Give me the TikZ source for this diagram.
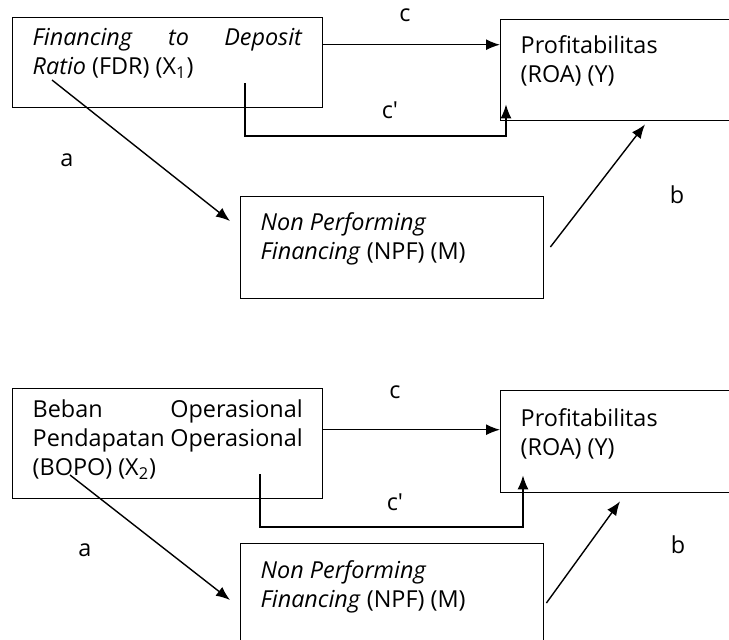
\documentclass[tikz,border=0pt]{standalone}
\usepackage{fontspec}
\setmainfont{Open Sans}
\usetikzlibrary{arrows.meta}

% box text: height, width, first baseline, text
\newcommand{\boxtext}[4]{\parbox[c][#1][t]{#2}{\rule{0pt}{#3}#4}}

\begin{document}
\begin{tikzpicture} [
        x=0.5pt, y=-0.5pt,
        font={\fontsize{11.7}{14.5}\selectfont},
        block/.style={rectangle, draw, anchor=north west, inner xsep=10pt, inner ysep=0pt, line width=0.7pt},
        lbl/.style={inner sep=0pt},
        line/.style={draw, line width=0.7pt, -{Latex[length=7pt, width=5.5pt]}}
    ]
        \useasboundingbox (0,0) rectangle (729,639);

        % Nodes (FDR model)
        \node[block] (fdr) at (12,17) {\boxtext{45pt}{135pt}{14pt}{\textit{Financing} \hfill \textit{to} \hfill \textit{Deposit}\\ \textit{Ratio} (FDR) (X\textsubscript{1})}};
        \node[block] (roa) at (500,19) {\boxtext{50.5pt}{110pt}{17pt}{Profitabilitas\\ (ROA) (Y)}};
        \node[block] (npf) at (240,196) {\boxtext{51pt}{131.5pt}{17pt}{\textit{Non Performing}\\ \textit{Financing} (NPF) (M)}};

        % Nodes (BOPO model)
        \node[block] (bopo) at (12,388) {\boxtext{55pt}{135pt}{14.5pt}{Beban \hfill Operasional\\ Pendapatan~Operasional\\ (BOPO) (X\textsubscript{2})}};
        \node[block] (roab) at (500,390) {\boxtext{51pt}{110pt}{18pt}{Profitabilitas\\ (ROA) (Y)}};
        \node[block] (npfb) at (240,543) {\boxtext{60pt}{131.5pt}{17.5pt}{\textit{Non Performing}\\ \textit{Financing} (NPF) (M)}};

        % Labels
        \node[lbl] (lc) at (405,15) {c};
        \node[lbl] (lcp) at (390,110) {c\textquotesingle};
        \node[lbl] (la) at (67,160) {a};
        \node[lbl] (lb) at (677,195) {b};
        \node[lbl] (lcb) at (395,392) {c};
        \node[lbl] (lcpb) at (395,502) {c\textquotesingle};
        \node[lbl] (lab) at (85,550) {a};
        \node[lbl] (lbb) at (678,545) {b};

        % Coordinates
        \coordinate (c1) at ([yshift=9pt]fdr.east);
        \coordinate (cp1) at ([shift={(233,66)}]fdr.north west);
        \coordinate (cp1end) at ([shift={(6,-17)}]roa.south west);
        \coordinate (a1) at ([shift={(40,63)}]fdr.north west);
        \coordinate (a1end) at ([shift={(-10,25)}]npf.north west);
        \coordinate (b1) at ([shift={(6,51)}]npf.north east);
        \coordinate (b1end) at ([shift={(145,3)}]roa.south west);

        \coordinate (c2) at ([yshift=7pt]bopo.east);
        \coordinate (cp2) at ([shift={(248,86)}]bopo.north west);
        \coordinate (cp2end) at ([shift={(23,-18)}]roab.south west);
        \coordinate (a2) at ([shift={(58,87)}]bopo.north west);
        \coordinate (a2end) at ([shift={(-10,57)}]npfb.north west);
        \coordinate (b2) at ([shift={(2,60)}]npfb.north east);
        \coordinate (b2end) at ([shift={(120,8)}]roab.south west);

        % Paths
        \path [line] (c1) -- (c1 -| roa.west);
        \path [line] (cp1) -- ++(0,53) -| (cp1end);
        \path [line] (a1) -- (a1end);
        \path [line] (b1) -- (b1end);

        \path [line] (c2) -- (c2 -| roab.west);
        \path [line] (cp2) -- ++(0,53) -| (cp2end);
        \path [line] (a2) -- (a2end);
        \path [line] (b2) -- (b2end);
    \end{tikzpicture}
\end{document}
